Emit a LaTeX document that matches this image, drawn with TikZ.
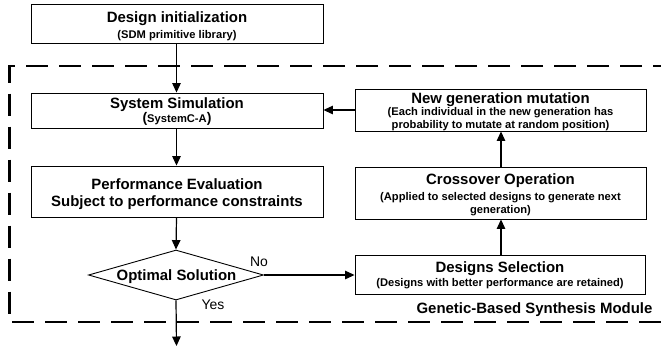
\documentclass[tikz,border=0pt]{standalone}
\usepackage{fontspec}
\setmainfont{Liberation Sans}
\usetikzlibrary{arrows.meta,shapes.geometric}
\begin{document}
\begin{tikzpicture}[x=1bp,y=-1bp,
  box/.style={draw, line width=0.9bp, inner sep=0pt, rectangle},
  dia/.style={draw, line width=0.9bp, inner sep=0pt, diamond},
  ttl/.style={anchor=base, inner sep=0pt, font=\fontsize{15}{17}\selectfont\bfseries},
  sub/.style={anchor=base, inner sep=0pt, font=\fontsize{11.2}{13}\selectfont\bfseries},
  lbl/.style={anchor=base, inner sep=0pt, font=\fontsize{14}{16}\selectfont},
  conn/.style={line width=1.2bp, -{Triangle[length=9.5bp,width=8.5bp]}},
  frame/.style={line width=2.4bp, dash pattern=on 22bp off 11bp}
]
\useasboundingbox (0,0) rectangle (661,350);
% dashed module frame (open on the right)
\draw[frame] (675,66) -- (9.5,66) -- (9.5,322) -- (675,322);

% boxes
\node[box, minimum width=292bp, minimum height=39bp] (init) at (177,23.5) {};
\node[box, minimum width=292bp, minimum height=35bp] (sim) at (177,110.5) {};
\node[box, minimum width=292bp, minimum height=51bp] (perf) at (177,191.5) {};
\node[dia, minimum width=175bp, minimum height=50bp] (opt) at (176,275) {};
\node[box, minimum width=291bp, minimum height=42bp] (mut) at (500.5,110) {};
\node[box, minimum width=291bp, minimum height=52bp] (cross) at (500.5,193) {};
\node[box, minimum width=290bp, minimum height=39bp] (sel) at (500,274.5) {};
\coordinate (out) at (176.5,346);

% texts
\node[ttl] (initT) at (177,22) {Design initialization};
\node[sub] (initS) at (177,38.5) {(SDM primitive library)};
\node[ttl] (simT) at (177,108) {System Simulation};
\node[sub] (simS) at (177,122) {{\fontsize{14}{16}\selectfont(}SystemC-A{\fontsize{14}{16}\selectfont)}};
\node[ttl] (perfT1) at (177,189) {Performance Evaluation};
\node[ttl] (perfT2) at (177,206.5) {Subject to performance constraints};
\node[ttl] (optT) at (176.5,280) {Optimal Solution};
\node[ttl] (mutT) at (500.5,103) {New generation mutation};
\node[sub] (mutS1) at (500.5,115.5) {(Each individual in the new generation has};
\node[sub] (mutS2) at (500.5,128) {probability to mutate at random position)};
\node[ttl] (crossT) at (500.5,184) {Crossover Operation};
\node[sub] (crossS1) at (500.5,200.5) {(Applied to selected designs to generate next};
\node[sub] (crossS2) at (500.5,213.5) {generation)};
\node[ttl] (selT) at (500,272) {Designs Selection};
\node[sub] (selS) at (500,286.5) {(Designs with better performance are retained)};
\node[ttl] (modT) at (534.5,313) {Genetic-Based Synthesis Module};
\node[lbl] (noT) at (259,266) {No};
\node[lbl] (yesT) at (213,309) {Yes};

% connectors
\draw[conn] (init.south -| 176.5,0) -- (sim.north -| 176.5,0);
\draw[conn] (sim.south -| 176.5,0) -- (perf.north -| 176.5,0);
\draw[conn] (perf.south -| 176.5,0) -- (opt.north);
\draw[conn] (opt.south) -- (out);
\draw[conn] (opt.east) -- (sel.west |- opt.east);
\draw[conn] (sel.north -| 501,0) -- (cross.south -| 501,0);
\draw[conn] (cross.north -| 501,0) -- (mut.south -| 501,0);
\draw[conn] (mut.west) -- (sim.east |- mut.west);
\end{tikzpicture}
\end{document}
